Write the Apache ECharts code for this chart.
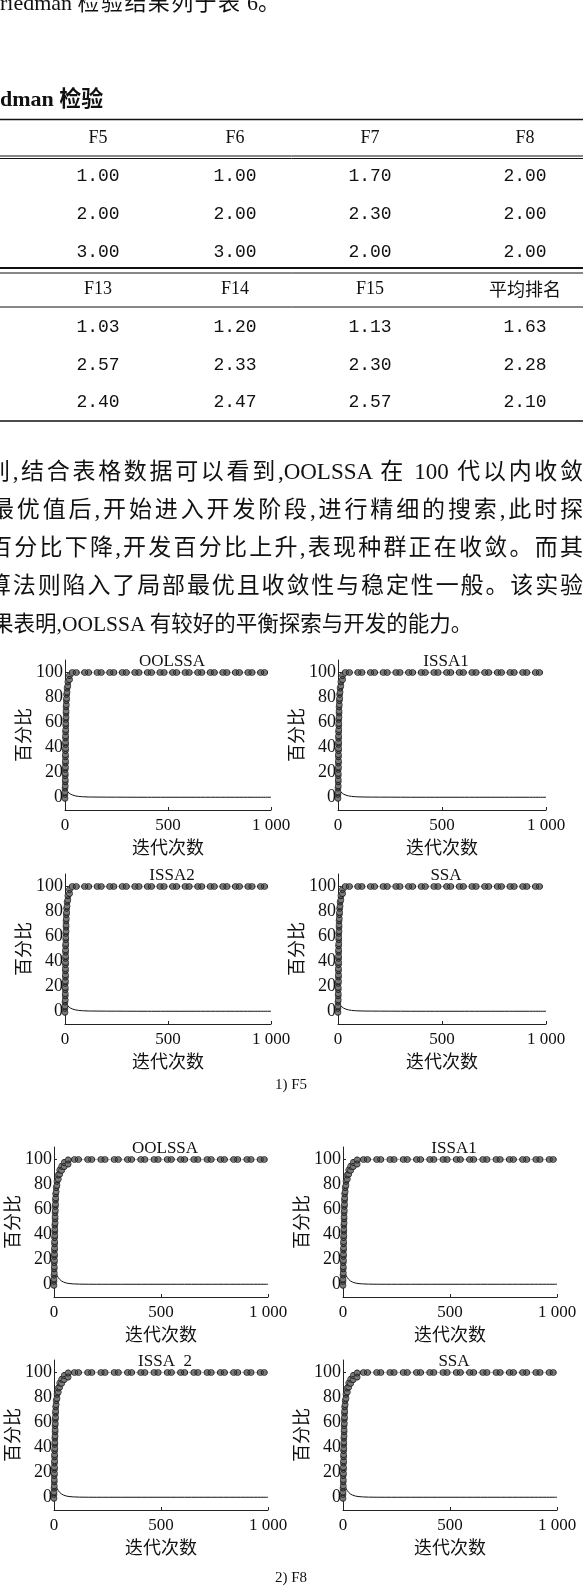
<!DOCTYPE html>
<html><head><meta charset="utf-8">
<script src="https://cdn.jsdelivr.net/npm/echarts@6/dist/echarts.min.js"></script>
<style>
html,body{margin:0;padding:0;background:#fff;}
#page{position:relative;width:583px;height:1589px;overflow:hidden;background:#fff;}
#chart{position:absolute;left:0;top:0;width:583px;height:1589px;}
.ln{position:absolute;font-family:'Liberation Serif','Noto Sans CJK SC',serif;font-size:22px;line-height:26px;height:26px;color:#111;white-space:nowrap;}
.jt{text-align:justify;text-align-last:justify;text-justify:inter-character;white-space:normal;overflow:visible;font-size:23px;}
.bd{font-weight:bold;font-size:22px;}
.sm{font-size:21.5px;}
.sp{letter-spacing:1.4px;}
</style></head>
<body><div id="page"><div id="chart"></div></div>
<script>
// ---------- data ----------
const topLine = ['riedman ', '检验结果列于表', '\u00a06。'];
const tableTitle = 'dman 检验';
const header1 = ['F5', 'F6', 'F7', 'F8'];
const rows1 = [['1.00', '1.00', '1.70', '2.00'], ['2.00', '2.00', '2.30', '2.00'], ['3.00', '3.00', '2.00', '2.00']];
const header2 = ['F13', 'F14', 'F15', '平均排名'];
const rows2 = [['1.03', '1.20', '1.13', '1.63'], ['2.57', '2.33', '2.30', '2.28'], ['2.40', '2.47', '2.57', '2.10']];
const proseLines = [
  '别,结合表格数据可以看到,OOLSSA 在 100 代以内收敛',
  '最优值后,开始进入开发阶段,进行精细的搜索,此时探',
  '百分比下降,开发百分比上升,表现种群正在收敛。而其',
  '算法则陷入了局部最优且收敛性与稳定性一般。该实验',
  '果表明,OOLSSA 有较好的平衡探索与开发的能力。'
];
const titlesF5 = ['OOLSSA', 'ISSA1', 'ISSA2', 'SSA'];
const titlesF8 = ['OOLSSA', 'ISSA1', 'ISSA\u00a0\u00a02', 'SSA'];
const captions = ['1) F5', '2) F8'];
const yAxisName = '百分比';
const xAxisName = '迭代次数';
const xTicks = [0, 500, 1000];
const yTicks = [0, 20, 40, 60, 80, 100];

// F5: exploitation percentage (marker chain), exploration percentage (thin line)
const f5RiseIter = [0, 0, 1, 1, 1, 2, 2, 2, 3, 3, 3, 4, 4, 5, 5, 6, 8, 10, 14, 22];
const f5RiseVal  = [1, 6, 11, 16, 21, 26, 31, 36, 41, 46, 51, 56, 61, 66, 71, 76, 81, 86, 91, 96];
const f5FlatIter = [45, 105, 166, 227, 288, 349, 410, 471, 532, 593, 654, 715, 776, 837, 898, 959];
const f5FlatVal  = [100, 100, 100, 100, 100, 100, 100, 100, 100, 100, 100, 100, 100, 100, 100, 100];
const f5ExplIter = [0, 4, 8, 14, 20, 28, 38, 50, 65, 85, 120, 200, 400, 1000];
const f5ExplVal  = [8, 7, 5.8, 4.5, 3.5, 2.6, 1.9, 1.3, 0.9, 0.6, 0.4, 0.3, 0.2, 0.2];

// F8
const f8RiseIter = [0, 0, 1, 1, 2, 2, 3, 3, 4, 4, 5, 5, 6, 7, 8, 10, 14, 20, 27, 36, 48, 66];
const f8RiseVal  = [1, 6, 11, 16, 21, 26, 31, 36, 41, 46, 51, 56, 61, 66, 71, 76, 81, 86, 90, 93, 96, 98];
const f8FlatIter = [105, 167, 229, 291, 353, 415, 477, 539, 601, 663, 725, 787, 849, 911, 973];
const f8FlatVal  = [100, 100, 100, 100, 100, 100, 100, 100, 100, 100, 100, 100, 100, 100, 100];
const f8ExplIter = [0, 3, 6, 10, 15, 20, 27, 35, 45, 57, 70, 90, 120, 200, 1000];
const f8ExplVal  = [15, 13, 11, 9, 7, 5.5, 4, 2.8, 1.9, 1.2, 0.8, 0.5, 0.3, 0.2, 0.2];

// ---------- layout ----------
const SERIF = "'Liberation Serif','Noto Sans CJK SC',serif";
const CJK = "'Noto Sans CJK SC','Liberation Serif',sans-serif";
const MONO = "'Liberation Mono','Noto Sans CJK SC',monospace";
const page = document.getElementById('page');

function addLine(parts, left, centerY, width, cls) {
  const d = document.createElement('div');
  d.className = 'ln' + (cls ? ' ' + cls : '');
  if (Array.isArray(parts)) {
    parts.forEach((t, i) => {
      const s = document.createElement('span');
      s.textContent = t;
      if (i === 1) s.className = 'sp';
      d.appendChild(s);
    });
  } else d.textContent = parts;
  d.style.left = left + 'px';
  d.style.top = (centerY - 13) + 'px';
  if (width) d.style.width = width + 'px';
  page.appendChild(d);
}
addLine(topLine, 0, 3);
addLine(tableTitle, 0, 99, null, 'bd');
const proseLeft = [-13, -9, -11, -12, -8];
const proseY = [472, 510, 548, 586, 624];
proseLines.forEach((t, i) => {
  if (i < 4) addLine(t, proseLeft[i], proseY[i], 583 - proseLeft[i], 'jt');
  else addLine(t, proseLeft[i], proseY[i], null, 'sm');
});

// ---------- echarts ----------
const chart = echarts.init(document.getElementById('chart'), null, {renderer: 'canvas'});
const graphic = [];
const colX = [98, 235, 370, 525];
function hline(y, w) {
  graphic.push({type: 'line', shape: {x1: 0, y1: y, x2: 583, y2: y}, style: {stroke: '#111', lineWidth: w}, silent: true});
}
function txt(t, x, y, font, size) {
  graphic.push({type: 'text', silent: true, style: {text: t, x: x, y: y, fill: '#111', fontFamily: font, fontSize: size, align: 'center', verticalAlign: 'middle'}});
}
hline(119.5, 1.6);
hline(156, 1); hline(158.5, 1);
hline(268, 2); hline(273, 1);
hline(307, 1);
hline(421, 1.6);
const rowY1 = [176, 214, 252], rowY2 = [327, 365, 402];
header1.forEach((h, i) => txt(h, colX[i], 138, SERIF, 18));
rows1.forEach((r, j) => r.forEach((v, i) => txt(v, colX[i], rowY1[j], MONO, 18)));
header2.forEach((h, i) => txt(h, colX[i], 289, i === 3 ? CJK : SERIF, 18));
rows2.forEach((r, j) => r.forEach((v, i) => txt(v, colX[i], rowY2[j], MONO, 18)));

txt(captions[0], 291, 1085, SERIF, 15);
txt(captions[1], 291, 1578, SERIF, 15);

const panels = [
  {l: 65, t: 660, w: 206, title: titlesF5[0], d: 'f5'},
  {l: 338, t: 660, w: 208, title: titlesF5[1], d: 'f5'},
  {l: 65, t: 874, w: 206, title: titlesF5[2], d: 'f5'},
  {l: 338, t: 874, w: 208, title: titlesF5[3], d: 'f5'},
  {l: 54, t: 1147, w: 214, title: titlesF8[0], d: 'f8'},
  {l: 343, t: 1147, w: 214, title: titlesF8[1], d: 'f8'},
  {l: 54, t: 1360, w: 214, title: titlesF8[2], d: 'f8'},
  {l: 343, t: 1360, w: 214, title: titlesF8[3], d: 'f8'}
];
const sets = {
  f5: {ri: f5RiseIter, rv: f5RiseVal, fi: f5FlatIter, fv: f5FlatVal, ei: f5ExplIter, ev: f5ExplVal},
  f8: {ri: f8RiseIter, rv: f8RiseVal, fi: f8FlatIter, fv: f8FlatVal, ei: f8ExplIter, ev: f8ExplVal}
};
const blob = 'path://M0,3a3,3 0 1,0 6,0a3,3 0 1,0 -6,0M4,3a3,3 0 1,0 6,0a3,3 0 1,0 -6,0';

const grid = [], xAxis = [], yAxis = [], series = [];
panels.forEach((p, k) => {
  grid.push({left: p.l, top: p.t, width: p.w, height: 150, containLabel: false});
  xAxis.push({
    gridIndex: k, type: 'value', min: 0, max: 1000, interval: 500,
    axisLine: {onZero: false, lineStyle: {color: '#222', width: 1}},
    axisTick: {inside: true, length: 3, lineStyle: {color: '#222'}},
    splitLine: {show: false},
    axisLabel: {margin: 7, color: '#111', fontFamily: SERIF, fontSize: 17,
      formatter: v => (v === 1000 ? '1 000' : String(v))},
    name: xAxisName, nameLocation: 'middle', nameGap: 28,
    nameTextStyle: {fontFamily: CJK, fontSize: 18, color: '#111'}
  });
  yAxis.push({
    gridIndex: k, type: 'value', min: -10, max: 110,
    axisLine: {show: true, lineStyle: {color: '#222', width: 1}},
    axisTick: {show: true, inside: true, length: 3, customValues: yTicks, lineStyle: {color: '#222'}},
    splitLine: {show: false},
    axisLabel: {margin: 2, color: '#111', fontFamily: SERIF, fontSize: 18, customValues: yTicks},
    name: yAxisName, nameLocation: 'middle', nameRotate: 90, nameGap: 31,
    nameTextStyle: {fontFamily: CJK, fontSize: 18, color: '#111'}
  });
  const s = sets[p.d];
  const exploit = [];
  s.ri.forEach((x, i) => exploit.push({value: [x, s.rv[i]], symbolRotate: 90}));
  s.fi.forEach((x, i) => exploit.push({value: [x, s.fv[i]], symbolRotate: 0}));
  const explore = s.ei.map((x, i) => [x, s.ev[i]]);
  series.push({
    type: 'line', xAxisIndex: k, yAxisIndex: k, data: explore, smooth: 0.35,
    symbol: 'none', lineStyle: {color: '#111', width: 1}, z: 2, clip: false
  });
  series.push({
    type: 'line', xAxisIndex: k, yAxisIndex: k, data: exploit,
    symbol: blob, symbolSize: [10, 6], showAllSymbol: true, clip: false,
    itemStyle: {color: '#7a7a7a', borderColor: '#222', borderWidth: 0.8},
    lineStyle: {color: '#777', width: 0.8, type: 'dotted'}, z: 3
  });
  txt(p.title, p.l + p.w / 2 + 4, p.t + 2, SERIF, 17);
});

chart.setOption({
  animation: false,
  backgroundColor: 'transparent',
  grid: grid, xAxis: xAxis, yAxis: yAxis, series: series,
  graphic: {elements: graphic}
});
</script>
</body></html>
